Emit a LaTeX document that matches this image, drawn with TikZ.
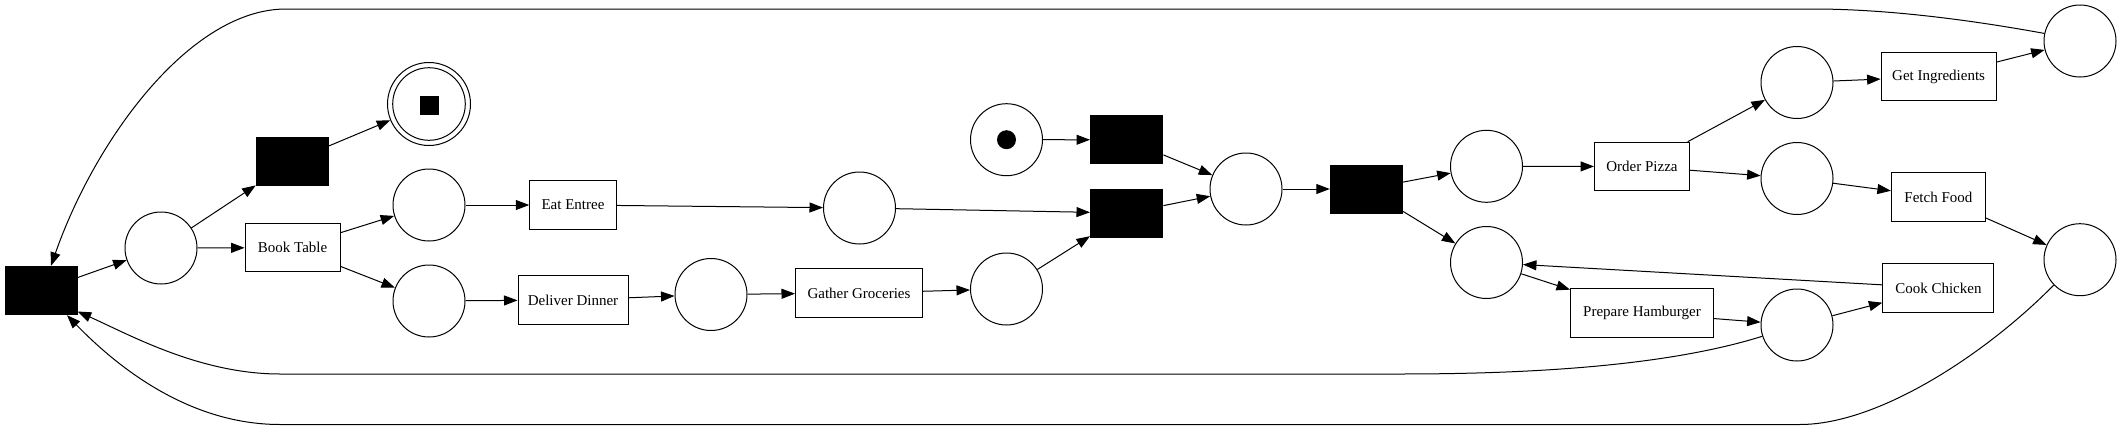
\documentclass[tikz,border=0pt]{standalone}
\usepackage{fontspec}
\setmainfont{Liberation Serif}
\usetikzlibrary{arrows.meta}
\begin{document}
\begin{tikzpicture}[x=1pt,y=-1pt,
  place/.style={circle,draw,line width=1pt,minimum size=72pt,inner sep=0pt},
  btrans/.style={rectangle,fill=black,minimum width=73pt,minimum height=49pt,inner sep=0pt},
  ltrans/.style={rectangle,draw,line width=1pt,minimum height=48.5pt,inner sep=0pt,font=\fontsize{15}{18}\selectfont},
  arc/.style={line width=1pt,-{Triangle[length=13.5pt,width=10pt]}},
]
\useasboundingbox (0,0) rectangle (2121,431);
% left part
\node[btrans] (t0) at (41,290.5) {};
\node[place] (p1) at (161,248) {};
\node[btrans] (t1) at (292.4,161.2) {};
\node[circle,draw,line width=1pt,minimum size=83pt,inner sep=0pt] (pend) at (429,104) {};
\node[circle,draw,line width=1pt,minimum size=72.6pt,inner sep=0pt] (pendin) at (429,104) {};
\node[rectangle,fill=black,minimum size=19pt,inner sep=0pt] (endtok) at (429,105) {};
\node[ltrans,minimum width=95pt] (book) at (292.6,247.7) {Book Table};
\node[place] (pa) at (429,205) {};
\node[place] (pb) at (429,301) {};
\node[ltrans,minimum width=86.5pt] (eat) at (573,205) {Eat Entree};
\node[ltrans,minimum width=110pt] (deliver) at (573,300) {Deliver Dinner};
\node[place] (pc) at (711,294.5) {};
\node[ltrans,minimum width=127pt] (gather) at (859,293) {Gather Groceries};
\node[place] (pd) at (1006.5,289) {};
\node[place] (pe) at (859.5,208) {};
% middle
\node[place] (pstart) at (1006.5,139.7) {};
\node[circle,fill=black,minimum size=19pt,inner sep=0pt] (tok) at (1006.5,139.7) {};
\node[btrans] (tstart) at (1126.7,139.8) {};
\node[btrans] (tjoin) at (1126.7,213) {};
\node[place] (pmid) at (1246,189) {};
\node[btrans] (tsplit) at (1366.5,189) {};
% right part
\node[place] (pop) at (1486.5,166.3) {};
\node[place] (phb) at (1486.5,262.5) {};
\node[ltrans,minimum width=95pt] (pizza) at (1642,166.5) {Order Pizza};
\node[ltrans,minimum width=143pt] (burger) at (1642,313) {Prepare Hamburger};
\node[place] (pz1) at (1797,82.5) {};
\node[place] (pz2) at (1797,178.5) {};
\node[place] (ph2) at (1797,325) {};
\node[ltrans,minimum width=115pt] (ingr) at (1938.6,76.7) {Get Ingredients};
\node[ltrans,minimum width=94pt] (fetch) at (1938.4,197) {Fetch Food};
\node[ltrans,minimum width=111pt] (cook) at (1938.4,288) {Cook Chicken};
\node[place] (pr1) at (2080,41) {};
\node[place] (pr2) at (2080,259.7) {};
% arcs
\draw[arc] (t0) -- (p1);
\draw[arc] (p1) -- (t1);
\draw[arc] (p1) -- (book);
\draw[arc] (t1) -- (pend);
\draw[arc] (book) -- (pa);
\draw[arc] (book) -- (pb);
\draw[arc] (pa) -- (eat);
\draw[arc] (pb) -- (deliver);
\draw[arc] (eat) -- (pe);
\draw[arc] (deliver) -- (pc);
\draw[arc] (pc) -- (gather);
\draw[arc] (gather) -- (pd);
\draw[arc] (pe) -- (tjoin);
\draw[arc] (pd) -- (tjoin);
\draw[arc] (pstart) -- (tstart);
\draw[arc] (tstart) -- (pmid);
\draw[arc] (tjoin) -- (pmid);
\draw[arc] (pmid) -- (tsplit);
\draw[arc] (tsplit) -- (pop);
\draw[arc] (tsplit) -- (phb);
\draw[arc] (pop) -- (pizza);
\draw[arc] (pizza) -- (pz1);
\draw[arc] (pizza) -- (pz2);
\draw[arc] (pz1) -- (ingr);
\draw[arc] (pz2) -- (fetch);
\draw[arc] (ingr) -- (pr1);
\draw[arc] (fetch) -- (pr2);
\draw[arc] (phb) -- (burger);
\draw[arc] (burger) -- (ph2);
\draw[arc] (ph2) -- (cook);
\draw[arc] (cook) -- (phb);
% long return arcs
\draw[arc] (pr1.168) .. controls (1960,18) and (1880,9) .. (1813,9) -- (286,9)
  .. controls (190,9) and (95,140) .. ([xshift=10pt]t0.north);
\draw[arc] (ph2.198) .. controls (1680,362) and (1560,374) .. (1400,374) -- (280,374)
  .. controls (200,374) and (130,335) .. ([yshift=-21pt]t0.east);
\draw[arc] (pr2.224) .. controls (1988,352) and (1880,424.5) .. (1800,424.5) -- (280,424.5)
  .. controls (200,424.5) and (130,380) .. ([xshift=26pt]t0.south);
\end{tikzpicture}
\end{document}
